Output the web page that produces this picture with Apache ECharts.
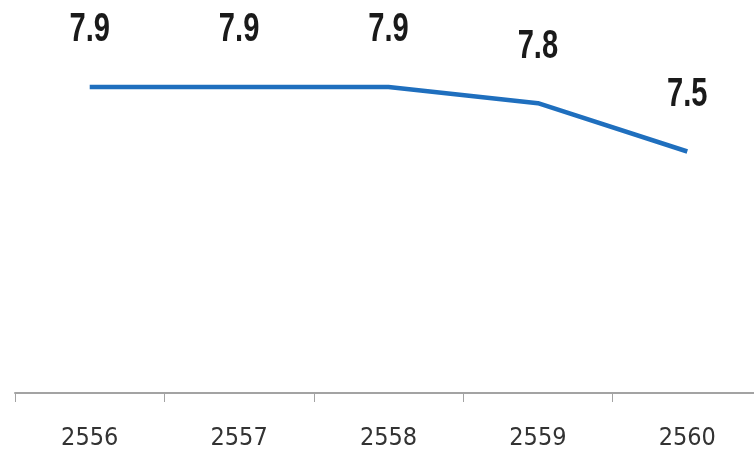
<!DOCTYPE html>
<html>
<head>
<meta charset="utf-8">
<style>
  html, body { margin: 0; padding: 0; background: #ffffff; }
  #chart { width: 754px; height: 452px; }
</style>
<script src="https://cdn.jsdelivr.net/npm/echarts@6/dist/echarts.min.js"></script>
</head>
<body>
<div id="chart"></div>
<script>
// Years (Buddhist Era) and the yearly values shown above the line
const years = ['2556', '2557', '2558', '2559', '2560'];
const values = [7.9, 7.9, 7.9, 7.8, 7.5];

const labelFont = '"Liberation Sans", Arial, sans-serif';

const chart = echarts.init(document.getElementById('chart'));
chart.setOption({
  animation: false,
  backgroundColor: '#ffffff',
  grid: { left: 15, top: 71, right: -8, bottom: 59, containLabel: false, outerBoundsMode: 'none' },
  xAxis: {
    type: 'category',
    data: years,
    boundaryGap: true,
    axisLine: { show: true, lineStyle: { color: '#a3a3a3', width: 2 } },
    axisTick: { show: true, length: 9, alignWithLabel: false, lineStyle: { color: '#a3a3a3', width: 1 } },
    axisLabel: {
      margin: 33,
      color: '#333333',
      fontSize: 25,
      fontFamily: '"DejaVu Sans Condensed", "DejaVu Sans", sans-serif'
    }
  },
  yAxis: {
    type: 'value',
    min: 6,
    max: 8,
    show: false
  },
  series: [{
    type: 'line',
    data: values,
    symbol: 'none',
    lineStyle: { color: '#1f6fbe', width: 4.5 },
    z: 2
  }, {
    // value labels: narrow, tall bold figures placed above each point
    type: 'custom',
    data: values.map((v, i) => [i, v]),
    z: 3,
    renderItem: function (params, api) {
      const pt = api.coord([api.value(0), api.value(1)]);
      return {
        type: 'text',
        x: pt[0],
        y: pt[1] - 57,
        scaleX: 0.71,
        style: {
          text: api.value(1).toFixed(1),
          fill: '#1a1a1a',
          font: 'bold 41px ' + labelFont,
          align: 'center',
          verticalAlign: 'middle'
        }
      };
    }
  }]
});
</script>
</body>
</html>
